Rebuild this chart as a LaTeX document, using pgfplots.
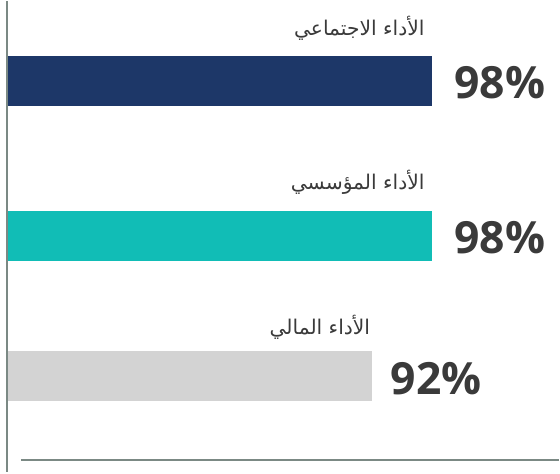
\documentclass[border=0pt]{standalone}
\usepackage{pgfplots}
\pgfplotsset{compat=1.18}
\usepackage{fontspec}
\setmainfont{Open Sans}
\newfontfamily\arabicfont[Script=Arabic]{DejaVu Sans}
\newfontfamily\pctfont{Open Sans}
\TeXXeTstate=1
\definecolor{navy}{HTML}{1D3768}
\definecolor{teal}{HTML}{11BDB6}
\definecolor{lgrey}{HTML}{D3D3D3}
\definecolor{axisgrey}{HTML}{7B8984}
\definecolor{txt}{HTML}{3A3A3A}
\begin{document}
\begin{tikzpicture}
\begin{axis}[
  scale only axis,
  width=552bp, height=472bp,
  xmin=55.2, xmax=110.86,
  ymin=0, ymax=472, y dir=reverse,
  axis lines=none,
  clip=false,
  xbar, bar width=50, bar shift=0pt,
  point meta=x,
  /pgf/number format/assume math mode=true,
  nodes near coords={\pgfmathprintnumber{\pgfplotspointmeta}\%},
  nodes near coords align={horizontal},
  every node near coord/.append style={font=\pctfont\bfseries\fontsize{44.5bp}{44bp}\selectfont, text=txt, anchor=west, inner sep=0pt, xshift=22.5bp, yshift=-2bp},
]
\addplot[fill=navy, draw=none] coordinates {(98,80)};
\addplot[fill=teal, draw=none] coordinates {(98,235)};
\addplot[fill=lgrey, draw=none, every node near coord/.append style={xshift=-4bp}] coordinates {(92,376)};
\draw[axisgrey, line width=2.2bp] ([xshift=-1bp]axis cs:55.2,0) -- ([xshift=-1bp]axis cs:55.2,472);
\draw[axisgrey, line width=2bp] (axis cs:56.5,460) -- (axis cs:110.86,460);
\node[anchor=east, inner sep=0pt, text=txt, font=\arabicfont\fontsize{20.3bp}{24bp}\selectfont] at (axis cs:97.3,27) {\beginR الأداء الاجتماعي\endR};
\node[anchor=east, inner sep=0pt, text=txt, font=\arabicfont\fontsize{20.3bp}{24bp}\selectfont] at (axis cs:97.3,182) {\beginR الأداء المؤسسي\endR};
\node[anchor=east, inner sep=0pt, text=txt, font=\arabicfont\fontsize{20.3bp}{24bp}\selectfont] at (axis cs:91.8,327) {\beginR الأداء المالي\endR};
\end{axis}
\path ([xshift=-8bp]current axis.south west) rectangle (current axis.north east);
\end{tikzpicture}
\end{document}
